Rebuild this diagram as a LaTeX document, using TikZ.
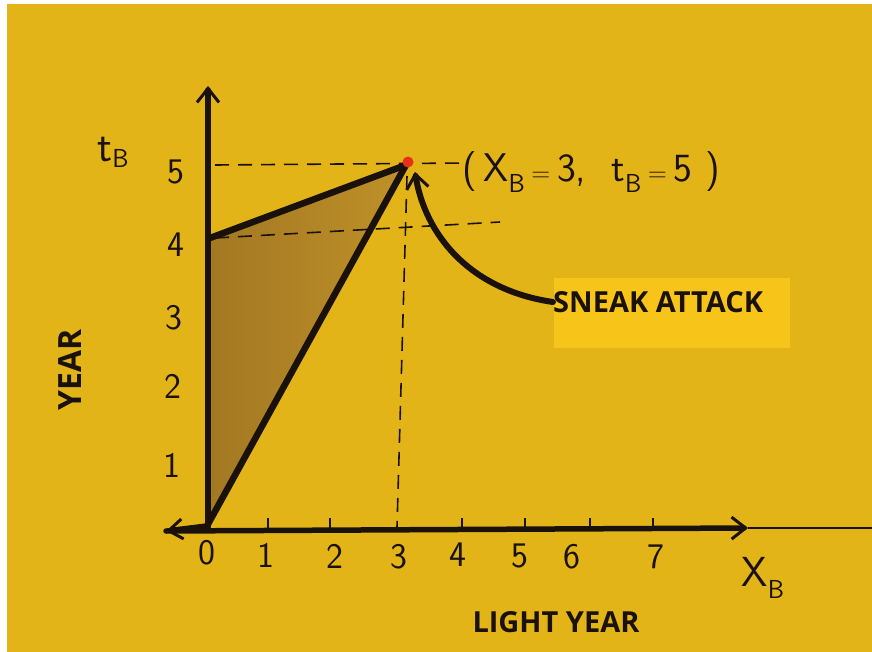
\documentclass[tikz,border=0pt]{standalone}
\usepackage{fontspec}
\setmainfont{Liberation Sans}
\newfontfamily\labfont{Open Sans}
\usetikzlibrary{arrows.meta}
\definecolor{bgyellow}{HTML}{E3B418}
\definecolor{boxyellow}{HTML}{F7C419}
\definecolor{shadeA}{HTML}{A27822}
\definecolor{shadeB}{HTML}{BF9128}
\definecolor{ink}{HTML}{1A120A}
\definecolor{redpt}{HTML}{E8301C}
\tikzset{
  axisline/.style={ink, line width=5.5pt, line cap=round},
  worldline/.style={ink, line width=6.5pt, line cap=round, line join=round},
  guideline/.style={ink, line width=1.6pt, dash pattern=on 14pt off 9pt},
  hand/.style={ink, font=\sffamily\fontsize{36}{36}\selectfont, inner sep=0pt},
  boldlab/.style={ink, font=\labfont\bfseries\fontsize{29}{29}\selectfont, inner sep=0pt},
  barb/.style={-{Straight Barb[length=14pt,width=22pt,line width=3pt]}},
}
\newcommand{\subB}[1][-9pt]{\raisebox{#1}{\fontsize{26}{26}\selectfont B}}
\begin{document}
\begin{tikzpicture}[x=1pt,y=-1pt]
\useasboundingbox (0,0) rectangle (872,652);
\fill[white] (0,0) rectangle (872,652);
\fill[bgyellow] (7,4) rectangle (872,652);
% coordinates
\coordinate (O) at (207,526);
\coordinate (A) at (210,238);
\coordinate (P) at (406,165);
\coordinate (ytip) at (208,86);
\coordinate (ybase) at (208,527);
\coordinate (xleft) at (166,531);
\coordinate (xtip) at (748,528);
\coordinate (xend) at (872,528);
\coordinate (foot) at (397,527);
% shaded region
\shade[left color=shadeA, right color=shadeB] (O) -- (A) -- (P) -- cycle;
% guide lines
\draw[guideline] (215,165) -- (468,163);
\draw[guideline] (215,238) -- (500,222);
\draw[guideline] (407,176) -- (foot);
% axes
\draw[axisline, barb] (ybase) -- (ytip);
\draw[axisline, barb] (xleft) -- (xtip);
\draw[axisline, -{Straight Barb[length=14pt,width=20pt,line width=3pt]}] (O) -- (xleft);
\draw[ink, line width=1.8pt] (xtip) -- (xend);
% ticks
\foreach \tx in {268,330,462,525,590,653}
  \draw[ink, line width=2pt] (\tx,528) -- (\tx,518);
% world lines
\draw[worldline] (O) -- (P);
\draw[worldline] (A) -- (P);
% event point
\fill[redpt] (408,162) circle (5.5pt);
% sneak attack label
\node[fill=boxyellow, minimum width=236pt, minimum height=70pt, inner sep=0pt] (box) at (672,313) {};
\node[boldlab, anchor=west] (sneak) at (553,302) {SNEAK ATTACK};
\draw[ink, line width=6pt, line cap=round, barb] (sneak.west) .. controls (470,290) and (425,235) .. (415,172);
% axis labels
\node[hand, font=\sffamily\fontsize{44}{44}\selectfont] (tb) at (113,152) {t\subB[-6pt]};
\node[hand] (y5) at (176,172) {5};
\node[hand] (y4) at (176,245) {4};
\node[hand] (y3) at (174,318) {3};
\node[hand] (y2) at (173,386) {2};
\node[hand] (y1) at (172,465) {1};
\node[hand] (x0) at (207,553) {0};
\node[hand] (x1) at (266,555) {1};
\node[hand] (x2) at (335,556) {2};
\node[hand] (x3) at (399,557) {3};
\node[hand] (x4) at (458,555) {4};
\node[hand] (x5) at (520,556) {5};
\node[hand] (x6) at (572,557) {6};
\node[hand] (x7) at (656,557) {7};
\node[hand, font=\sffamily\fontsize{42}{42}\selectfont] (xb) at (763,578) {X\subB[-12pt]};
\node[hand, anchor=west, font=\sffamily\fontsize{40}{40}\selectfont] (event) at (462,172) {(\,X\subB[-11pt]\,{\fontsize{26}{26}\selectfont=}\,3,\ \ t\subB[-11pt]\,{\fontsize{26}{26}\selectfont=}\,5\,\,)};
\node[boldlab, font=\labfont\bfseries\fontsize{32}{32}\selectfont, rotate=90] (year) at (70,370) {YEAR};
\node[boldlab] (ly) at (556,622) {LIGHT YEAR};
\end{tikzpicture}
\end{document}
